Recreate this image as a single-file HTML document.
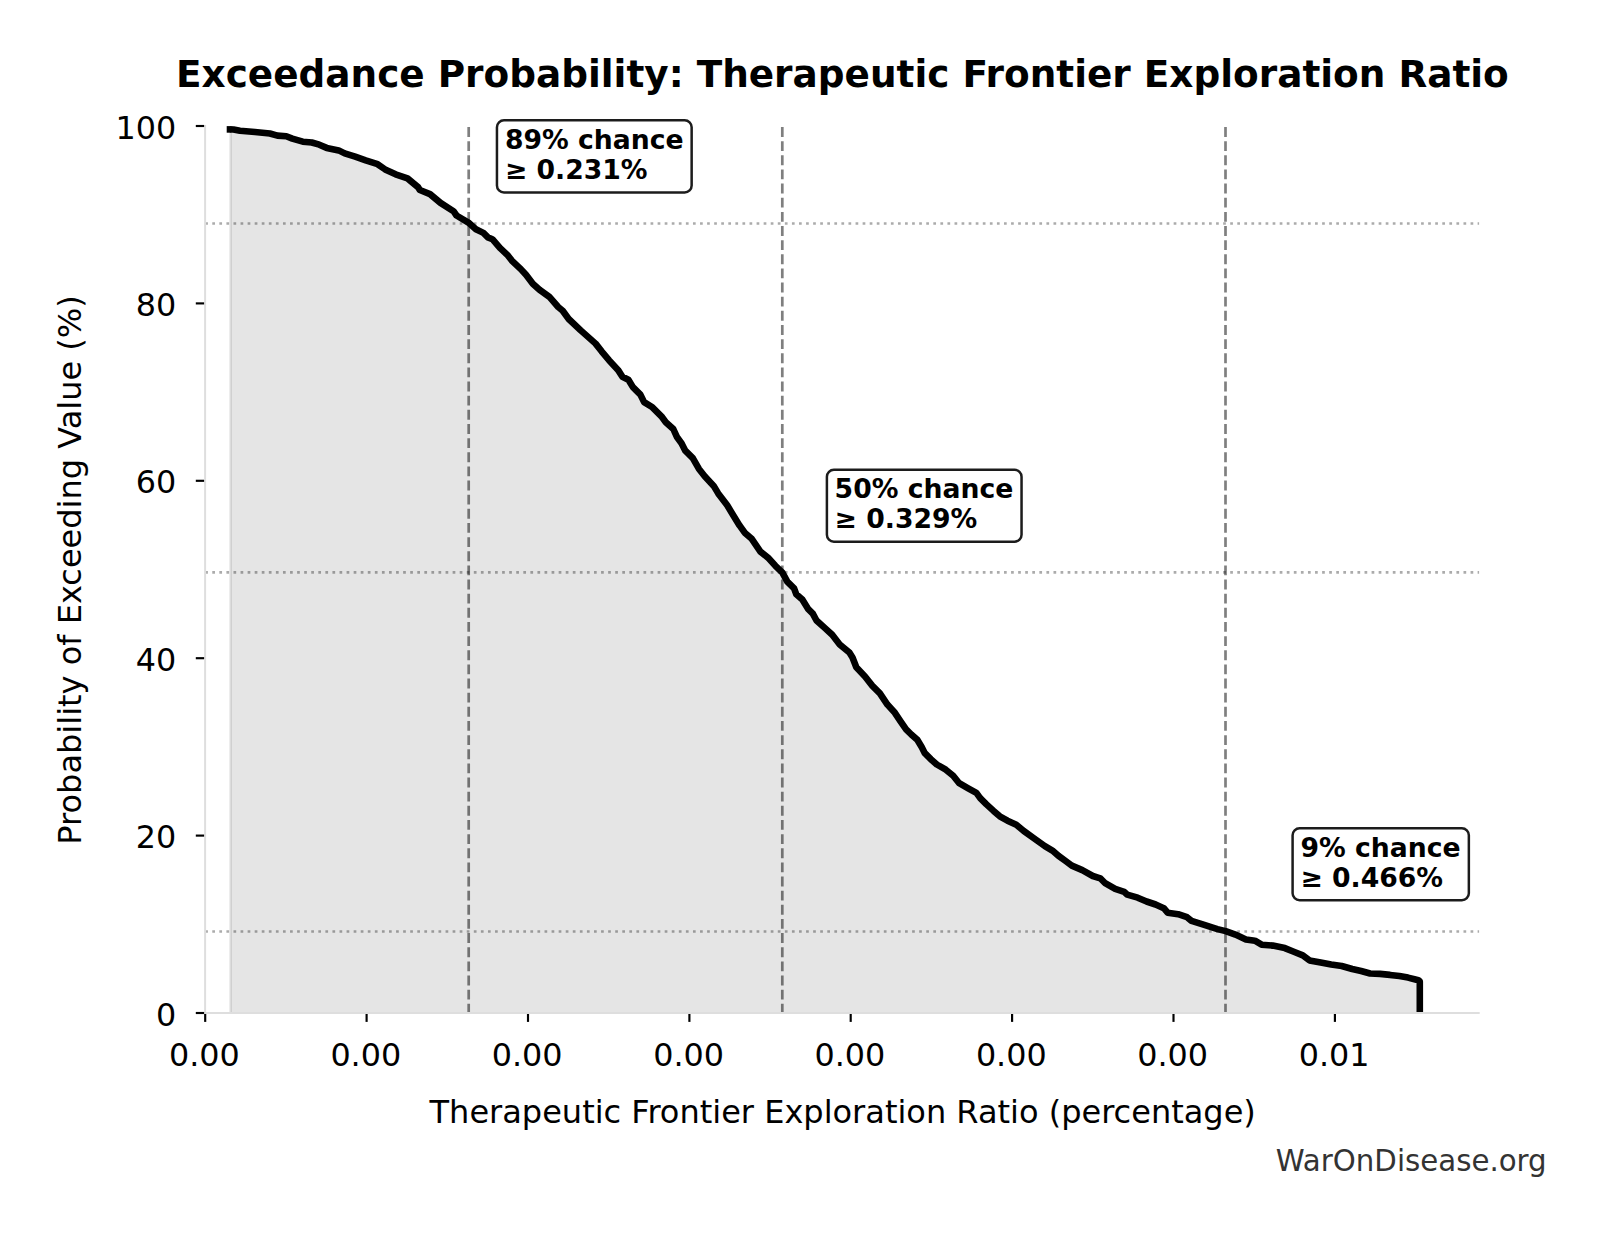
<!DOCTYPE html>
<html lang="en"><head><meta charset="utf-8"><title>Exceedance Probability: Therapeutic Frontier Exploration Ratio</title>
<style>html,body{margin:0;padding:0;background:#fff}svg{display:block}text{font-family:'DejaVu Sans','Liberation Sans',sans-serif;fill:#000}</style></head><body>
<svg width="1604" height="1234" viewBox="0 0 1604 1234">
<rect width="1604" height="1234" fill="#fff"/>
<polygon points="230.6,129.4 233.5,129.5 240.0,130.8 254.9,132.0 269.9,133.5 277.4,135.6 286.3,136.2 292.3,138.6 302.8,141.7 311.8,142.5 319.3,144.7 326.7,147.9 338.7,150.4 344.7,153.4 355.2,156.7 365.7,160.4 377.6,164.2 385.1,169.4 395.6,174.3 407.5,178.4 418.0,187.1 419.8,190.0 430.0,194.1 440.5,202.9 453.5,211.2 456.5,215.5 468.4,222.6 475.9,229.2 483.4,232.9 487.9,237.4 492.4,239.2 499.9,247.9 507.3,254.8 511.8,260.6 520.8,269.1 526.0,274.8 532.8,283.8 539.5,289.8 549.2,296.7 558.2,307.0 562.7,310.7 568.7,319.0 580.7,330.4 595.6,343.6 601.6,351.3 609.0,360.2 618.0,369.9 622.4,376.7 628.4,379.7 632.9,387.1 640.4,394.6 644.1,402.1 652.4,407.3 661.4,416.3 665.8,422.3 673.3,429.0 677.1,437.3 681.5,443.2 685.3,450.7 692.8,458.2 698.8,468.7 704.7,476.2 713.7,485.9 718.2,493.4 727.2,505.3 732.0,513.2 739.5,525.4 744.7,532.7 751.4,538.4 760.4,551.6 767.9,557.6 775.4,565.8 782.4,572.6 787.3,581.6 794.1,588.3 796.3,594.3 802.3,599.5 808.3,609.2 812.8,613.7 816.5,620.5 824.7,627.9 832.2,634.7 839.7,644.4 849.4,652.6 852.5,657.5 856.3,667.3 865.0,676.5 872.4,685.9 879.9,693.4 887.4,704.6 894.9,712.8 900.9,721.8 906.1,729.3 911.3,734.5 917.3,739.8 921.8,747.3 924.8,753.2 930.8,759.2 936.8,764.5 945.8,769.7 953.2,775.7 959.2,783.2 968.2,788.4 976.4,792.9 980.2,798.1 986.2,804.1 993.6,810.9 999.8,816.3 1007.5,820.7 1016.3,824.8 1023.8,831.0 1034.4,838.6 1044.9,846.1 1052.4,850.6 1058.4,855.8 1065.8,861.1 1071.8,865.6 1082.3,870.1 1092.8,876.0 1100.3,878.3 1104.7,882.8 1115.2,888.8 1124.2,891.8 1127.2,894.7 1137.7,897.7 1146.6,901.5 1155.6,904.5 1163.8,908.2 1167.6,912.7 1178.1,914.2 1187.0,917.2 1191.5,920.9 1203.5,924.7 1212.0,927.4 1217.5,929.1 1225.7,931.1 1235.4,934.6 1245.9,939.4 1254.9,940.7 1261.6,944.7 1272.8,945.6 1284.8,948.1 1293.8,951.8 1302.8,955.4 1309.5,960.4 1320.7,962.6 1331.2,964.5 1341.7,966.0 1352.2,969.0 1361.1,971.0 1370.1,973.5 1380.0,973.9 1390.0,974.9 1399.4,976.1 1408.0,977.6 1414.5,979.2 1418.3,980.2 1419.8,981.4 1419.8,1013.0 230.6,1013.0" fill="#000" fill-opacity="0.1"/>
<line x1="230.6" y1="129.4" x2="230.6" y2="1013.0" stroke="#000" stroke-opacity="0.1" stroke-width="2.6"/>
<line x1="205.2" y1="223.5" x2="1479.1" y2="223.5" stroke="#000" stroke-opacity="0.33" stroke-width="2.7" stroke-dasharray="2.72 4.349"/>
<line x1="205.2" y1="572.4" x2="1479.1" y2="572.4" stroke="#000" stroke-opacity="0.33" stroke-width="2.7" stroke-dasharray="2.72 4.349"/>
<line x1="205.2" y1="931.5" x2="1479.1" y2="931.5" stroke="#000" stroke-opacity="0.33" stroke-width="2.7" stroke-dasharray="2.72 4.349"/>
<line x1="468.7" y1="1013.7" x2="468.7" y2="126.0" stroke="#000" stroke-opacity="0.5" stroke-width="2.7" stroke-dasharray="9.87 4.272"/>
<line x1="782.3" y1="1013.7" x2="782.3" y2="126.0" stroke="#000" stroke-opacity="0.5" stroke-width="2.7" stroke-dasharray="9.87 4.272"/>
<line x1="1225.5" y1="1013.7" x2="1225.5" y2="126.0" stroke="#000" stroke-opacity="0.5" stroke-width="2.7" stroke-dasharray="9.87 4.272"/>
<polyline points="230.0,129.4 233.5,129.5 240.0,130.8 254.9,132.0 269.9,133.5 277.4,135.6 286.3,136.2 292.3,138.6 302.8,141.7 311.8,142.5 319.3,144.7 326.7,147.9 338.7,150.4 344.7,153.4 355.2,156.7 365.7,160.4 377.6,164.2 385.1,169.4 395.6,174.3 407.5,178.4 418.0,187.1 419.8,190.0 430.0,194.1 440.5,202.9 453.5,211.2 456.5,215.5 468.4,222.6 475.9,229.2 483.4,232.9 487.9,237.4 492.4,239.2 499.9,247.9 507.3,254.8 511.8,260.6 520.8,269.1 526.0,274.8 532.8,283.8 539.5,289.8 549.2,296.7 558.2,307.0 562.7,310.7 568.7,319.0 580.7,330.4 595.6,343.6 601.6,351.3 609.0,360.2 618.0,369.9 622.4,376.7 628.4,379.7 632.9,387.1 640.4,394.6 644.1,402.1 652.4,407.3 661.4,416.3 665.8,422.3 673.3,429.0 677.1,437.3 681.5,443.2 685.3,450.7 692.8,458.2 698.8,468.7 704.7,476.2 713.7,485.9 718.2,493.4 727.2,505.3 732.0,513.2 739.5,525.4 744.7,532.7 751.4,538.4 760.4,551.6 767.9,557.6 775.4,565.8 782.4,572.6 787.3,581.6 794.1,588.3 796.3,594.3 802.3,599.5 808.3,609.2 812.8,613.7 816.5,620.5 824.7,627.9 832.2,634.7 839.7,644.4 849.4,652.6 852.5,657.5 856.3,667.3 865.0,676.5 872.4,685.9 879.9,693.4 887.4,704.6 894.9,712.8 900.9,721.8 906.1,729.3 911.3,734.5 917.3,739.8 921.8,747.3 924.8,753.2 930.8,759.2 936.8,764.5 945.8,769.7 953.2,775.7 959.2,783.2 968.2,788.4 976.4,792.9 980.2,798.1 986.2,804.1 993.6,810.9 999.8,816.3 1007.5,820.7 1016.3,824.8 1023.8,831.0 1034.4,838.6 1044.9,846.1 1052.4,850.6 1058.4,855.8 1065.8,861.1 1071.8,865.6 1082.3,870.1 1092.8,876.0 1100.3,878.3 1104.7,882.8 1115.2,888.8 1124.2,891.8 1127.2,894.7 1137.7,897.7 1146.6,901.5 1155.6,904.5 1163.8,908.2 1167.6,912.7 1178.1,914.2 1187.0,917.2 1191.5,920.9 1203.5,924.7 1212.0,927.4 1217.5,929.1 1225.7,931.1 1235.4,934.6 1245.9,939.4 1254.9,940.7 1261.6,944.7 1272.8,945.6 1284.8,948.1 1293.8,951.8 1302.8,955.4 1309.5,960.4 1320.7,962.6 1331.2,964.5 1341.7,966.0 1352.2,969.0 1361.1,971.0 1370.1,973.5 1380.0,973.9 1390.0,974.9 1399.4,976.1 1408.0,977.6 1414.5,979.2 1418.3,980.2 1419.8,981.4 1419.8,1013.0" fill="none" stroke="#000" stroke-width="6.6" stroke-linejoin="round" stroke-linecap="butt"/>
<line x1="226.7" y1="129.4" x2="230.5" y2="129.4" stroke="#000" stroke-width="6.6"/>
<line x1="205.1" y1="125.0" x2="205.1" y2="1014.0" stroke="#dedede" stroke-width="2"/>
<line x1="204.1" y1="1013.0" x2="1479.7" y2="1013.0" stroke="#dedede" stroke-width="2"/>
<line x1="205.2" y1="1014.0" x2="205.2" y2="1021.9" stroke="#000" stroke-width="2.15"/>
<line x1="366.6" y1="1014.0" x2="366.6" y2="1021.9" stroke="#000" stroke-width="2.15"/>
<line x1="528.0" y1="1014.0" x2="528.0" y2="1021.9" stroke="#000" stroke-width="2.15"/>
<line x1="689.4" y1="1014.0" x2="689.4" y2="1021.9" stroke="#000" stroke-width="2.15"/>
<line x1="850.7" y1="1014.0" x2="850.7" y2="1021.9" stroke="#000" stroke-width="2.15"/>
<line x1="1012.1" y1="1014.0" x2="1012.1" y2="1021.9" stroke="#000" stroke-width="2.15"/>
<line x1="1173.5" y1="1014.0" x2="1173.5" y2="1021.9" stroke="#000" stroke-width="2.15"/>
<line x1="1334.9" y1="1014.0" x2="1334.9" y2="1021.9" stroke="#000" stroke-width="2.15"/>
<line x1="195.8" y1="1013.0" x2="204.1" y2="1013.0" stroke="#000" stroke-width="2.15"/>
<line x1="195.8" y1="835.6" x2="204.1" y2="835.6" stroke="#000" stroke-width="2.15"/>
<line x1="195.8" y1="658.2" x2="204.1" y2="658.2" stroke="#000" stroke-width="2.15"/>
<line x1="195.8" y1="480.8" x2="204.1" y2="480.8" stroke="#000" stroke-width="2.15"/>
<line x1="195.8" y1="303.4" x2="204.1" y2="303.4" stroke="#000" stroke-width="2.15"/>
<line x1="195.8" y1="126.0" x2="204.1" y2="126.0" stroke="#000" stroke-width="2.15"/>
<text x="204.4" y="1065.5" font-size="31.80" text-anchor="middle">0.00</text>
<text x="365.8" y="1065.5" font-size="31.80" text-anchor="middle">0.00</text>
<text x="527.2" y="1065.5" font-size="31.80" text-anchor="middle">0.00</text>
<text x="688.6" y="1065.5" font-size="31.80" text-anchor="middle">0.00</text>
<text x="849.9" y="1065.5" font-size="31.80" text-anchor="middle">0.00</text>
<text x="1011.3" y="1065.5" font-size="31.80" text-anchor="middle">0.00</text>
<text x="1172.7" y="1065.5" font-size="31.80" text-anchor="middle">0.00</text>
<text x="1334.1" y="1065.5" font-size="31.80" text-anchor="middle">0.01</text>
<text x="176.3" y="1025.5" font-size="31.80" text-anchor="end">0</text>
<text x="176.3" y="848.1" font-size="31.80" text-anchor="end">20</text>
<text x="176.3" y="670.7" font-size="31.80" text-anchor="end">40</text>
<text x="176.3" y="493.3" font-size="31.80" text-anchor="end">60</text>
<text x="176.3" y="315.9" font-size="31.80" text-anchor="end">80</text>
<text x="176.3" y="138.5" font-size="31.80" text-anchor="end">100</text>
<text x="842.7" y="1123.0" font-size="32.00" text-anchor="middle">Therapeutic Frontier Exploration Ratio (percentage)</text>
<text transform="translate(81.3,570.0) rotate(-90)" font-size="32.00" text-anchor="middle">Probability of Exceeding Value (%)</text>
<text x="842.4" y="86.6" font-size="37.40" font-weight="bold" text-anchor="middle">Exceedance Probability: Therapeutic Frontier Exploration Ratio</text>
<text x="1546.7" y="1171.0" font-size="29.25" text-anchor="end" style="fill:#333">WarOnDisease.org</text>
<rect x="496.95" y="120.25" width="194.70" height="72.15" rx="7" ry="7" fill="#fff" stroke="#1c1c1c" stroke-width="2.5"/>
<text x="504.9" y="148.7" font-size="26.67" font-weight="bold">89% chance</text>
<text x="504.9" y="179.0" font-size="26.67" font-weight="bold">≥ 0.231%</text>
<rect x="826.90" y="469.80" width="194.65" height="71.85" rx="7" ry="7" fill="#fff" stroke="#1c1c1c" stroke-width="2.5"/>
<text x="834.6" y="497.9" font-size="26.67" font-weight="bold">50% chance</text>
<text x="834.6" y="528.0" font-size="26.67" font-weight="bold">≥ 0.329%</text>
<rect x="1292.60" y="828.35" width="176.25" height="71.85" rx="7" ry="7" fill="#fff" stroke="#1c1c1c" stroke-width="2.5"/>
<text x="1300.4" y="856.8" font-size="26.67" font-weight="bold">9% chance</text>
<text x="1300.4" y="887.1" font-size="26.67" font-weight="bold">≥ 0.466%</text>
</svg></body></html>
